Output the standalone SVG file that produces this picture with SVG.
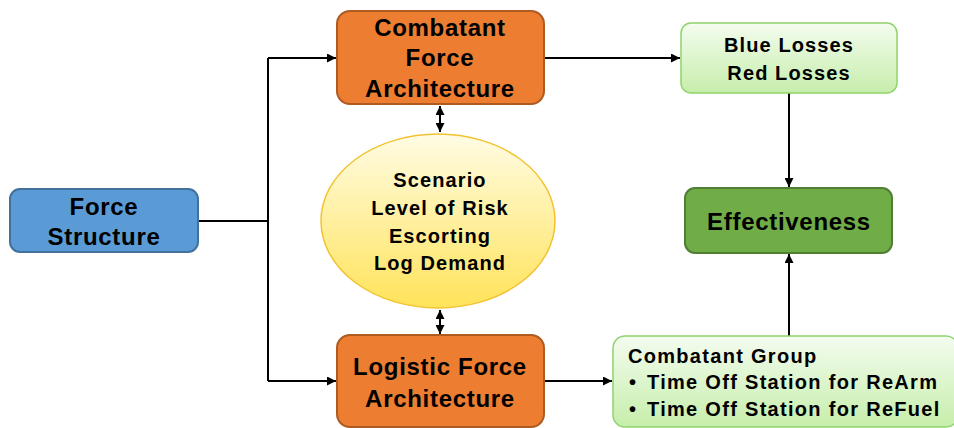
<svg xmlns="http://www.w3.org/2000/svg" width="954" height="428" viewBox="0 0 954 428">
  <defs>
    <linearGradient id="gLight" x1="0" y1="0" x2="0" y2="1">
      <stop offset="0" stop-color="#f4fcef"/>
      <stop offset="1" stop-color="#c6eeab"/>
    </linearGradient>
    <linearGradient id="gYellow" x1="0" y1="0" x2="0" y2="1">
      <stop offset="0" stop-color="#fffce4"/>
      <stop offset="1" stop-color="#ffe35a"/>
    </linearGradient>
    <marker id="arr" viewBox="0 0 10 10" refX="10" refY="5" markerWidth="9" markerHeight="9" markerUnits="userSpaceOnUse" orient="auto-start-reverse">
      <path d="M0,0 L10,5 L0,10 z" fill="#000"/>
    </marker>
    <style>
      .lbl { font-family: "Liberation Sans", Arial, sans-serif; font-weight: bold; fill: #000; }
      .big { font-size: 24px; letter-spacing: 0.7px; text-anchor: middle; }
      .mid { font-size: 20px; letter-spacing: 1.1px; text-anchor: middle; }
      .lst { font-size: 20px; letter-spacing: 1.3px; }
      .wire { fill: none; stroke: #000; stroke-width: 2; }
    </style>
  </defs>

  <!-- connectors -->
  <g id="connectors">
    <path class="wire" d="M198,221 H268"/>
    <path class="wire" d="M268,58 V381"/>
    <path class="wire" d="M268,58 H336" marker-end="url(#arr)"/>
    <path class="wire" d="M268,381 H336" marker-end="url(#arr)"/>
    <path class="wire" d="M544,58 H680" marker-end="url(#arr)"/>
    <path class="wire" d="M544,381 H612" marker-end="url(#arr)"/>
    <path class="wire" d="M440,106 V132" marker-start="url(#arr)" marker-end="url(#arr)"/>
    <path class="wire" d="M440,310 V334" marker-start="url(#arr)" marker-end="url(#arr)"/>
    <path class="wire" d="M789,93 V187" marker-end="url(#arr)"/>
    <path class="wire" d="M789,336 V254" marker-end="url(#arr)"/>
  </g>

  <g id="force-structure">
    <rect x="10" y="189" width="188" height="63" rx="10" fill="#5b9bd5" stroke="#41719c" stroke-width="2"/>
    <text class="lbl big" x="104" y="215">Force</text>
    <text class="lbl big" x="104" y="245">Structure</text>
  </g>

  <g id="combatant-force-architecture">
    <rect x="337" y="11" width="207" height="93" rx="13" fill="#ed7d31" stroke="#ae5a21" stroke-width="2"/>
    <text class="lbl big" x="440" y="36">Combatant</text>
    <text class="lbl big" x="440" y="66">Force</text>
    <text class="lbl big" x="440" y="97">Architecture</text>
  </g>

  <g id="scenario">
    <ellipse cx="438" cy="221" rx="117" ry="87" fill="url(#gYellow)" stroke="#f2c230" stroke-width="1.5"/>
    <text class="lbl mid" x="440" y="187">Scenario</text>
    <text class="lbl mid" x="440" y="215">Level of Risk</text>
    <text class="lbl mid" x="440" y="243">Escorting</text>
    <text class="lbl mid" x="440" y="270">Log Demand</text>
  </g>

  <g id="logistic-force-architecture">
    <rect x="337" y="335" width="207" height="92" rx="13" fill="#ed7d31" stroke="#ae5a21" stroke-width="2"/>
    <text class="lbl big" x="440" y="375">Logistic Force</text>
    <text class="lbl big" x="440" y="407">Architecture</text>
  </g>

  <g id="losses">
    <rect x="681" y="23" width="216" height="70" rx="10" fill="url(#gLight)" stroke="#8fd46b" stroke-width="1.5"/>
    <text class="lbl mid" x="789" y="52">Blue Losses</text>
    <text class="lbl mid" x="789" y="80">Red Losses</text>
  </g>

  <g id="effectiveness">
    <rect x="685" y="188" width="207" height="65" rx="10" fill="#70ad47" stroke="#507e32" stroke-width="2"/>
    <text class="lbl big" x="789" y="230">Effectiveness</text>
  </g>

  <g id="combatant-group">
    <rect x="613" y="336" width="345" height="91" rx="12" fill="url(#gLight)" stroke="#8fd46b" stroke-width="1.5"/>
    <text class="lbl lst" x="628" y="363">Combatant Group</text>
    <text class="lbl lst" y="389"><tspan x="629">•</tspan><tspan x="647">Time Off Station for ReArm</tspan></text>
    <text class="lbl lst" y="416"><tspan x="629">•</tspan><tspan x="647">Time Off Station for ReFuel</tspan></text>
  </g>
</svg>
